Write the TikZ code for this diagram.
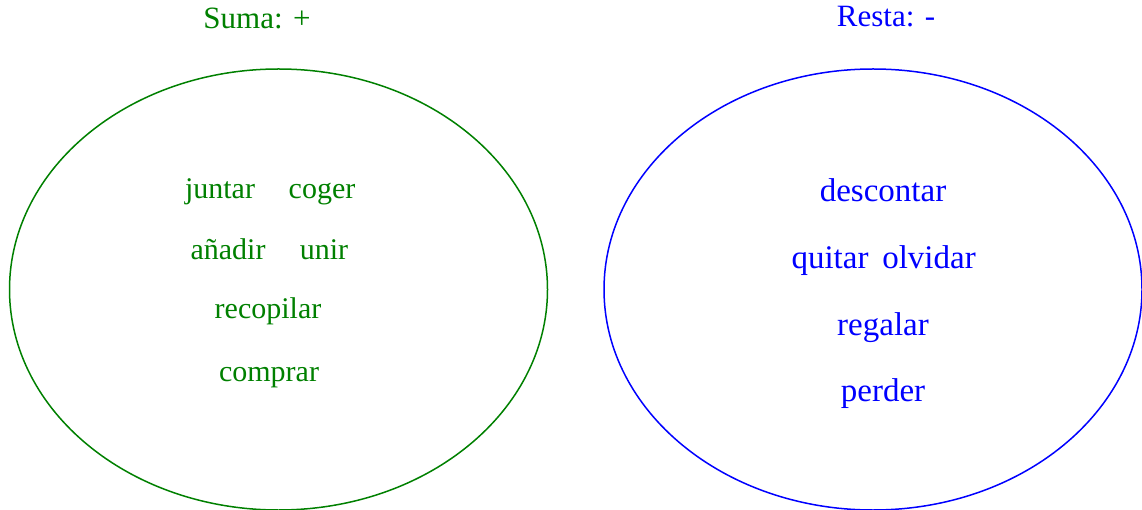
\documentclass[tikz,border=0pt]{standalone}
\usepackage{fontspec}
\setmainfont{Liberation Serif}
\usepackage{xcolor}
\definecolor{sumagreen}{RGB}{0,128,0}
\definecolor{restablue}{RGB}{0,0,255}
\usetikzlibrary{shapes.geometric}

\begin{document}
\begin{tikzpicture}[x=1pt,y=-1pt,
  grupo/.style={draw,ellipse,line width=1.5pt,minimum width=538pt,minimum height=441pt,inner sep=0pt},
  titulo/.style={anchor=base,font=\fontsize{31}{36}\selectfont},
  palsuma/.style={anchor=base,text=sumagreen,font=\fontsize{30}{36}\selectfont},
  palresta/.style={anchor=base,text=restablue,font=\fontsize{33}{40}\selectfont}
]
  \useasboundingbox (0,0) rectangle (1142,510);

  % Suma
  \node[titulo,text=sumagreen] (tsuma) at (257,29) {Suma: +};
  \node[grupo,sumagreen] (suma) at (278.5,289.5) {};
  \node[palsuma] (juntar) at (220,199) {juntar};
  \node[palsuma] (coger) at (322,199) {coger};
  \node[palsuma] (anadir) at (228,260) {añadir};
  \node[palsuma] (unir) at (324,260) {unir};
  \node[palsuma] (recopilar) at (268,319) {recopilar};
  \node[palsuma] (comprar) at (269,381) {comprar};

  % Resta
  \node[titulo,text=restablue] (tresta) at (886,27) {Resta: -};
  \node[grupo,restablue] (resta) at (873,289.5) {};
  \node[palresta] (descontar) at (883,202) {descontar};
  \node[palresta] (quitar) at (830,269) {quitar};
  \node[palresta] (olvidar) at (929,269) {olvidar};
  \node[palresta] (regalar) at (883,335) {regalar};
  \node[palresta] (perder) at (883,401) {perder};
\end{tikzpicture}
\end{document}
